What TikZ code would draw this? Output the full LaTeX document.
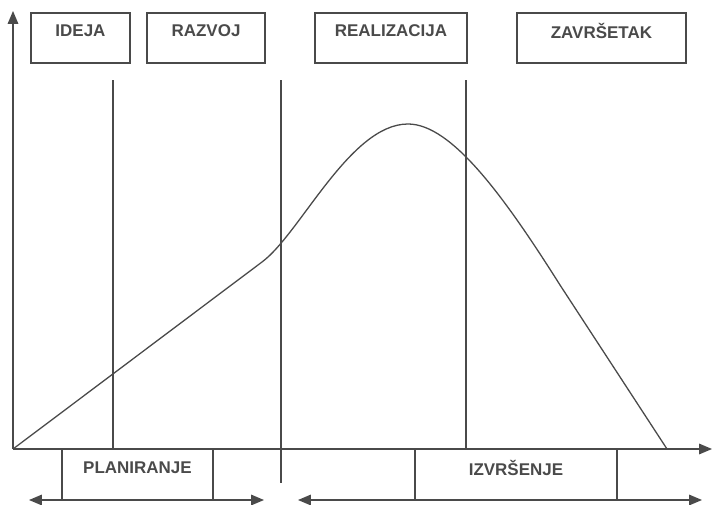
\documentclass[tikz,border=0pt]{standalone}
\usepackage{fontspec}
\setmainfont{Liberation Sans}
\usetikzlibrary{arrows.meta}
\definecolor{ink}{HTML}{4a4a4a}
\begin{document}
\begin{tikzpicture}[x=0.03cm, y=-0.03cm,
  line width=1.1pt, draw=ink,
  box/.style={draw=ink, line width=1.1pt},
  lbl/.style={text=ink, font=\fontsize{14.5}{17}\selectfont\bfseries, inner sep=0pt},
  tip/.style={-{Triangle[length=11pt, width=9pt]}},
  both/.style={{Triangle[length=11pt, width=9pt]}-{Triangle[length=11pt, width=9pt]}}]
			\useasboundingbox (0,0) rectangle (714,505);
			\coordinate (O) at (13,449);
			\coordinate (Ytop) at (13,11);
			\coordinate (Xend) at (712,449);
			% axes
			\draw[tip, ink] (O) -- (Ytop);
			\draw[tip, ink] (O) -- (Xend);
			% phases on top
			\draw[box] (31,13) rectangle (130,63);
			\node[lbl] (ideja) at (80.5,31) {IDEJA};
			\draw[box] (147,13) rectangle (265,63);
			\node[lbl] (razvoj) at (206,31) {RAZVOJ};
			\draw[box] (315,13) rectangle (467,63);
			\node[lbl] (realizacija) at (391,31) {REALIZACIJA};
			\draw[box] (517,13) rectangle (686,63);
			\node[lbl] (zavrsetak) at (601.5,31) {ZAVRŠETAK};
			% boundaries
			\draw[ink] (113,80) -- (113,449);
			\draw[ink] (281,80) -- (281,483);
			\draw[ink] (466,80) -- (466,449);
			% curve
			\draw[ink] (O) -- (262,262) .. controls (300,234) and (350,124) .. (408,124)
			  .. controls (452,124) and (505,198) .. (560,285) -- (667,449);
			% phases below
			\draw[box] (62,449) rectangle (213,500);
			\node[lbl] (planiranje) at (137.5,468) {PLANIRANJE};
			\draw[box] (415,449) rectangle (617,500);
			\node[lbl] (izvrsenje) at (516,468) {IZVRŠENJE};
			\coordinate (PlanL) at (29,500);
			\coordinate (PlanR) at (264,500);
			\coordinate (IzvL) at (298,500);
			\coordinate (IzvR) at (702,500);
			\draw[both, ink] (PlanL) -- (PlanR);
			\draw[both, ink] (IzvL) -- (IzvR);
\end{tikzpicture}
\end{document}
